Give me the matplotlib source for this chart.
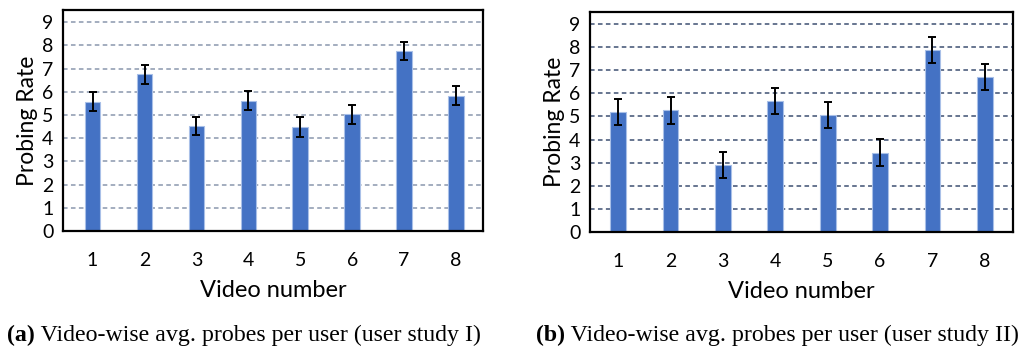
import matplotlib
matplotlib.use("Agg")
import matplotlib.pyplot as plt
import numpy as np

videos = [1, 2, 3, 4, 5, 6, 7, 8]
study1_rate = [5.57, 6.75, 4.53, 5.62, 4.48, 5.03, 7.75, 5.83]
study1_err = [0.40, 0.40, 0.40, 0.40, 0.41, 0.41, 0.40, 0.40]
study2_rate = [5.18, 5.27, 2.90, 5.66, 5.05, 3.43, 7.87, 6.70]
study2_err = [0.57, 0.58, 0.57, 0.57, 0.57, 0.58, 0.57, 0.57]
yticks = list(range(10))
captions = [("(a)", " Video-wise avg. probes per user (user study I)"),
            ("(b)", " Video-wise avg. probes per user (user study II)")]

W, H = 1020, 350
fig = plt.figure(figsize=(W / 100, H / 100), dpi=100)
sans = ["Lato", "DejaVu Sans"]

def box(x0, y0, x1, y1):
    return [x0 / W, 1 - y1 / H, (x1 - x0) / W, (y1 - y0) / H]

panels = [
    (box(63, 10, 483, 231), study1_rate, study1_err, "#8a97ad", (0.43, 8.52)),
    (box(590, 12, 1013, 232), study2_rate, study2_err, "#3d4f72", (0.46, 8.54)),
]

for rect, vals, errs, gcol, xl in panels:
    ax = fig.add_axes(rect)
    ax.set_axisbelow(True)
    for y in yticks[1:]:
        ax.axhline(y, color=gcol, lw=1.1, ls=(0, (3, 2.2)), zorder=0)
    ax.bar(videos, vals, width=0.3, color="#4472C4", edgecolor="#a9c0e8",
           linewidth=0.8, zorder=2)
    ax.errorbar(videos, vals, yerr=errs, fmt="none", ecolor="black",
                elinewidth=1.4, capsize=3, capthick=1.4, zorder=3)
    ax.set_xlim(*xl)
    ax.set_ylim(0, 9.52)
    ax.set_xticks(videos)
    ax.set_xticklabels([str(v) for v in videos], fontsize=14, family=sans)
    ax.set_yticks(yticks)
    ax.set_yticklabels([str(v) for v in yticks], fontsize=14, family=sans)
    ax.tick_params(length=0, pad=7)
    ax.tick_params(axis="x", pad=15)
    for s in ax.spines.values():
        s.set_linewidth(1.6)
        s.set_color("black")
    ax.set_xlabel("Video number", fontsize=17, family=sans, labelpad=8)
    ax.set_ylabel("Probing Rate", fontsize=16.5, family=sans, labelpad=3)

serif = ["Liberation Serif", "DejaVu Serif"]
for (bold, rest), x0 in zip(captions, [7, 536]):
    t1 = fig.text(x0 / W, 1 - 341 / H, bold, fontsize=17.2, fontweight="bold",
                  family=serif, va="baseline", ha="left")
    plt.annotate(rest, xy=(1, 0), xycoords=t1, fontsize=17.2, family=serif,
                 va="bottom", ha="left", annotation_clip=False)

fig.savefig("out.png", dpi=100)
